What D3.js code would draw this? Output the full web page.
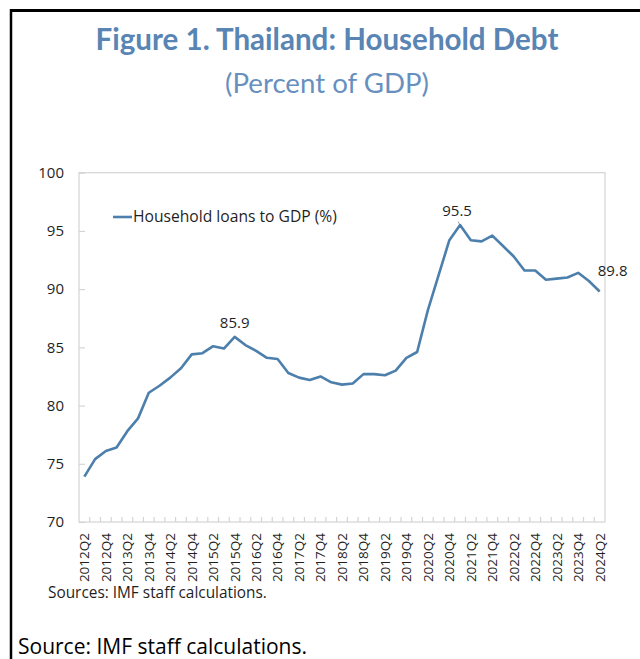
<!DOCTYPE html>
<html>
<head>
<meta charset="utf-8">
<script src="https://cdn.jsdelivr.net/npm/d3@7"></script>
<style>
  html, body { margin: 0; padding: 0; background: #fff; }
  svg { display: block; }
</style>
</head>
<body>
<svg id="chart" width="640" height="659"></svg>
<script>
// Quarterly household loans to GDP, Thailand
const categories = [
  "2012Q2","2012Q3","2012Q4","2013Q1","2013Q2","2013Q3","2013Q4","2014Q1",
  "2014Q2","2014Q3","2014Q4","2015Q1","2015Q2","2015Q3","2015Q4","2016Q1",
  "2016Q2","2016Q3","2016Q4","2017Q1","2017Q2","2017Q3","2017Q4","2018Q1",
  "2018Q2","2018Q3","2018Q4","2019Q1","2019Q2","2019Q3","2019Q4","2020Q1",
  "2020Q2","2020Q3","2020Q4","2021Q1","2021Q2","2021Q3","2021Q4","2022Q1",
  "2022Q2","2022Q3","2022Q4","2023Q1","2023Q2","2023Q3","2023Q4","2024Q1",
  "2024Q2"
];
const householdLoans = [
  73.9, 75.4, 76.1, 76.4, 77.8, 78.9, 81.1, 81.7,
  82.4, 83.2, 84.4, 84.5, 85.1, 84.9, 85.9, 85.2,
  84.7, 84.1, 84.0, 82.8, 82.4, 82.2, 82.5, 82.0,
  81.8, 81.9, 82.7, 82.7, 82.6, 83.0, 84.1, 84.6,
  88.2, 91.2, 94.2, 95.5, 94.2, 94.1, 94.6, 93.7,
  92.8, 91.6, 91.6, 90.8, 90.9, 91.0, 91.4, 90.7,
  89.8
];
const xTickLabels = categories.filter((c, i) => i % 2 === 0);
const yTicks = [70, 75, 80, 85, 90, 95, 100];
const labelledPoints = ["2015Q4", "2021Q1", "2024Q2"];

const seriesName = "Household loans to GDP (%)";
const titleText = "Figure 1. Thailand: Household Debt";
const subtitleText = "(Percent of GDP)";
const chartSource = "Sources: IMF staff calculations.";
const pageSource = "Source: IMF staff calculations.";

const svg = d3.select("#chart");
const axisFont = "'Open Sans', 'Noto Sans', sans-serif";
const titleFont = "Lato, 'Open Sans', sans-serif";
const lineColor = "#4c7fab";
const textColor = "#1f1f1f";

// resize a text element's font so it spans the given width
function fitWidth(sel, width) {
  const node = sel.node();
  const size = parseFloat(sel.attr("font-size"));
  const len = node.getComputedTextLength();
  if (len > 0) sel.attr("font-size", (size * width / len).toFixed(2));
  return sel;
}

// page frame: top and left rule
svg.append("line").attr("x1", 10).attr("x2", 640).attr("y1", 10.5).attr("y2", 10.5)
  .attr("stroke", "#000").attr("stroke-width", 3);
svg.append("line").attr("x1", 11).attr("x2", 11).attr("y1", 9).attr("y2", 659)
  .attr("stroke", "#000").attr("stroke-width", 2.5);

// titles
fitWidth(svg.append("text").attr("x", 327).attr("y", 50).attr("text-anchor", "middle")
  .attr("font-family", titleFont).attr("font-weight", 700).attr("font-size", 26)
  .attr("fill", "#5985b4").text(titleText), 463);
fitWidth(svg.append("text").attr("x", 327).attr("y", 93).attr("text-anchor", "middle")
  .attr("font-family", titleFont).attr("font-size", 26)
  .attr("fill", "#6790be").text(subtitleText), 204);

// scales
const plot = { left: 79, right: 605, top: 172.7, bottom: 522 };
const x = d3.scaleBand().domain(categories).range([plot.left, plot.right]).padding(0);
const y = d3.scaleLinear().domain([70, 100]).range([plot.bottom, plot.top]);
const cx = c => x(c) + x.bandwidth() / 2;

// plot frame
svg.append("rect").attr("x", plot.left).attr("y", plot.top)
  .attr("width", plot.right - plot.left).attr("height", plot.bottom - plot.top)
  .attr("fill", "none").attr("stroke", "#d4d4d4").attr("stroke-width", 1.2);

// y axis: inward ticks
const yAxis = svg.append("g").attr("transform", `translate(${plot.left},0)`)
  .call(d3.axisLeft(y).tickValues(yTicks).tickSize(-6).tickPadding(15).tickFormat(d3.format("d")));
yAxis.select(".domain").remove();
yAxis.selectAll(".tick line").attr("stroke", "#d4d4d4").attr("stroke-width", 1.2);
yAxis.selectAll(".tick text").attr("font-family", axisFont).attr("font-size", 15)
  .attr("fill", textColor);

// x axis: ticks on category boundaries, rotated labels on every other quarter
svg.append("g").selectAll("line").data(categories.slice(1)).join("line")
  .attr("x1", d => x(d)).attr("x2", d => x(d))
  .attr("y1", plot.bottom).attr("y2", plot.bottom - 5)
  .attr("stroke", "#d4d4d4").attr("stroke-width", 1.2);
svg.append("g").selectAll("text").data(xTickLabels).join("text")
  .attr("transform", d => `translate(${cx(d)},${plot.bottom + 11}) rotate(-90)`)
  .attr("text-anchor", "end").attr("dy", "0.36em")
  .attr("font-family", axisFont).attr("font-size", 13.5).attr("fill", textColor)
  .text(d => d);

// series line
const line = d3.line().x((d, i) => cx(categories[i])).y(d => y(d));
svg.append("path").datum(householdLoans).attr("d", line)
  .attr("fill", "none").attr("stroke", lineColor).attr("stroke-width", 2.6)
  .attr("stroke-linejoin", "round");

// value labels
const labelOffsets = { "2015Q4": [0, -9, false], "2021Q1": [-3, -9, true], "2024Q2": [13, -15, true] };
labelledPoints.forEach(c => {
  const i = categories.indexOf(c);
  const v = householdLoans[i];
  const [dx, dy, leader] = labelOffsets[c];
  const px = cx(c), py = y(v);
  if (leader) {
    svg.append("line").attr("x1", px - 2).attr("y1", py - 3.5).attr("x2", px).attr("y2", py)
      .attr("stroke", "#7f7f7f").attr("stroke-width", 0.8);
  }
  svg.append("text").attr("x", px + dx).attr("y", py + dy).attr("text-anchor", "middle")
    .attr("font-family", axisFont).attr("font-size", 15).attr("fill", textColor)
    .text(d3.format(".1f")(v));
});

// legend
svg.append("line").attr("x1", 113).attr("x2", 132).attr("y1", 217).attr("y2", 217)
  .attr("stroke", lineColor).attr("stroke-width", 2.6);
fitWidth(svg.append("text").attr("x", 133).attr("y", 222).attr("font-family", axisFont)
  .attr("font-size", 15).attr("fill", textColor).text(seriesName), 204);

// sources
fitWidth(svg.append("text").attr("x", 48).attr("y", 598).attr("font-family", axisFont)
  .attr("font-size", 15).attr("fill", textColor).text(chartSource), 219);
fitWidth(svg.append("text").attr("x", 18).attr("y", 654).attr("font-family", axisFont)
  .attr("font-size", 20).attr("fill", "#000").text(pageSource), 289);
</script>
</body>
</html>
